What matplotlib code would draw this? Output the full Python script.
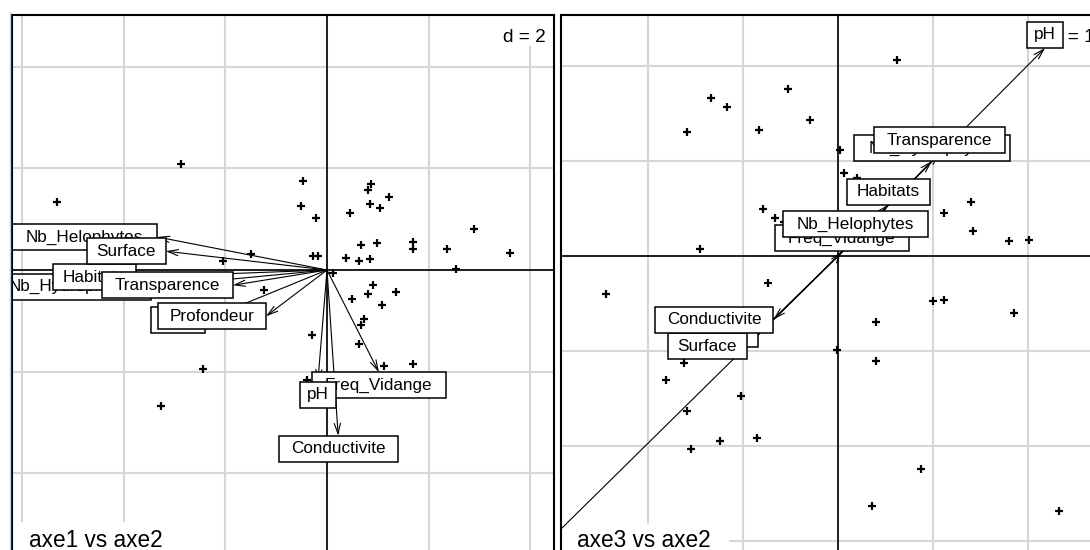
import matplotlib
matplotlib.use("Agg")
import matplotlib.pyplot as plt
import numpy as np
from matplotlib.patches import FancyArrowPatch, Rectangle
from matplotlib.lines import Line2D
from matplotlib.transforms import Affine2D, IdentityTransform, ScaledTranslation

plt.rcParams['font.family'] = ['Liberation Sans', 'DejaVu Sans']

# relevés, plan axe1 x axe2
rel_axe1 = [-2.87, -5.31, -0.47, -0.51, -0.22, -0.28, -0.18, -2.05, -1.49, -1.24,
            -0.29, -2.44, -3.26, -0.39, 0.81, 0.87, 1.22, 0.85, 1.04, 0.45,
            2.89, 0.67, 0.98, 1.69, 1.69, 2.36, 3.60, 0.37, 0.63, 0.85,
            2.54, 0.12, 0.90, 0.81, 1.36, 0.49, 1.08, 0.73, 0.67, 0.63,
            1.12, 1.69]
rel_axe2 = [2.08, 1.34, 1.75, 1.26, 1.02, 0.28, 0.28, 0.18, 0.31, -0.39,
            -1.28, -1.95, -2.67, -2.16, 1.57, 1.69, 1.44, 1.30, 1.22, 1.12,
            0.81, 0.49, 0.53, 0.55, 0.41, 0.41, 0.33, 0.24, 0.18, 0.22,
            0.02, -0.06, -0.29, -0.47, -0.43, -0.57, -0.69, -0.96, -1.08, -1.46,
            -1.89, -1.85]

# relevés, plan axe3 x axe2
rel_axe3 = [0.62, -0.53, -1.34, -1.17, -0.29, -0.83, -1.59, 0.02, 0.06, 0.20,
            1.40, -0.79, 1.12, -0.66, -0.57, 1.42, 1.80, 2.01, -1.45, -0.74,
            -2.44, 1.12, 1.00, 1.85, 0.40, -0.01, 0.40, -1.62, -1.81, -1.02,
            -1.59, -1.24, -0.85, -1.55, 0.87, 0.36, 2.33]
rel3_axe2 = [2.06, 1.76, 1.66, 1.57, 1.43, 1.33, 1.31, 1.12, 0.87, 0.82,
             0.57, 0.49, 0.45, 0.40, 0.36, 0.26, 0.16, 0.17, 0.07, -0.28,
             -0.40, -0.46, -0.47, -0.60, -0.69, -0.99, -1.11, -1.13, -1.31, -1.47,
             -1.63, -1.95, -1.92, -2.03, -2.24, -2.63, -2.68]

# variables (fleches)
variables = ["Vase", "Profondeur", "Freq_Vidange", "Nb_Helophytes", "Nb_Hydrophytes",
             "Habitats", "Surface", "Conductivite", "Transparence", "pH"]
var_axe1 = [-2.40, -1.20, 1.02, -3.34, -3.46, -3.76, -3.17, 0.22, -1.85, -0.18]
var_axe2 = [-0.98, -0.91, -2.01, 0.65, -0.33, -0.14, 0.37, -3.26, -0.30, -2.20]
var_axe3 = [-0.84, -3.45, 0.04, 0.185, 0.99, 0.53, -0.96, -0.68, 1.07, 2.18]
var3_axe2 = [-0.82, -3.40, 0.05, 0.195, 1.00, 0.54, -0.95, -0.67, 1.08, 2.19]

W, H = 1090, 550
fig = plt.figure(figsize=(W / 100, H / 100), dpi=100)


def px_axes(x0, x1, ytop, ybot):
    return fig.add_axes([x0 / W, 1 - ybot / H, (x1 - x0) / W, (ybot - ytop) / H])


def side(x, y):
    if x > y and x > -y:
        return "right"
    if x > y and x <= -y:
        return "down"
    if x <= y and x <= -y:
        return "left"
    return "up"


def label_box(ax, x, y, txt, z, r):
    t = ax.text(0, 0, txt, ha="center", va="center", fontsize=12.3,
                clip_on=True, zorder=z + 0.05)
    w = t.get_window_extent(r).width
    bw = 1.14 * w + 11
    bh = 26
    dx, dy = {"right": (bw / 2, 0), "left": (-bw / 2, 0),
              "down": (0, -bh / 2), "up": (0, bh / 2)}[side(x, y)]
    tr = Affine2D().translate(dx, dy) + ScaledTranslation(x, y, ax.transData)
    t.set_transform(tr)
    ax.add_patch(Rectangle((-bw / 2, -bh / 2), bw, bh, transform=tr,
                           fc="white", ec="black", lw=1.1, zorder=z))


def corner_text(ax, x0, x1, yb, yt, tx, ty, txt, ha, size):
    ax.add_patch(Rectangle((x0, yb), x1 - x0, yt - yb, transform=IdentityTransform(),
                           fc="white", ec="none", zorder=2.6))
    ax.text(tx, ty, txt, transform=IdentityTransform(), ha=ha, va="baseline",
            fontsize=size, clip_on=True, zorder=2.7)


def panel(ax, d, xlim, ylim, px, py, vx, vy, d_txt, title, d_box, t_box):
    # grille tous les d, limites posees ensuite pour ne pas les elargir
    ax.set_xticks(np.arange(-4, 5) * d)
    ax.set_yticks(np.arange(-4, 5) * d)
    ax.set_xlim(*xlim)
    ax.set_ylim(*ylim)
    ax.set_aspect("equal")
    ax.tick_params(length=0, labelbottom=False, labelleft=False)
    ax.grid(True, color="#d6d6d6", lw=1.5)
    for s in ax.spines.values():
        s.set_linewidth(1.5)
        s.set_zorder(9)
    ax.axhline(0, color="black", lw=1.2, zorder=2)
    ax.axvline(0, color="black", lw=1.2, zorder=2)

    corner_text(ax, *d_box, d_txt, "right", 13.7)
    corner_text(ax, *t_box, title, "left", 16.3)

    ax.plot(px, py, ls="none", marker="+", ms=5.5, mew=1.6, color="black", zorder=3)

    for x, y in zip(vx, vy):
        ax.add_patch(FancyArrowPatch((0, 0), (x, y),
                                     arrowstyle="->,head_length=0.75,head_width=0.22",
                                     mutation_scale=10, lw=0.8, color="black",
                                     shrinkA=0, shrinkB=0, zorder=3.5))

    r = fig.canvas.get_renderer()
    for i, (x, y, name) in enumerate(zip(vx, vy, variables)):
        label_box(ax, x, y, name, 4 + 0.1 * i, r)


ax1 = px_axes(12, 554, 15, 580)
panel(ax1, 2, ((12 - 327) / 50.85, (554 - 327) / 50.85),
      ((270 - 580) / 50.85, (270 - 15) / 50.85),
      rel_axe1, rel_axe2, var_axe1, var_axe2, "d = 2", "axe1 vs axe2",
      (497, 554, H - 46, H - 15, 546, H - 42),
      (12, 179, -10, H - 522, 29, H - 547))

ax2 = px_axes(561, 1103, 15, 580)
panel(ax2, 1, ((561 - 838) / 95, (1103 - 838) / 95),
      ((256 - 580) / 95, (256 - 15) / 95),
      rel_axe3, rel3_axe2, var_axe3, var3_axe2, "d = 1", "axe3 vs axe2",
      (1046, 1103, H - 46, H - 15, 1095, H - 42),
      (561, 729, -10, H - 524, 577, H - 547))

fig.add_artist(Line2D([9.5 / W, 9.5 / W], [0, 1 - 12 / H], transform=fig.transFigure,
                      color="#b8d4ee", lw=1))

fig.savefig("out.png", dpi=100)
